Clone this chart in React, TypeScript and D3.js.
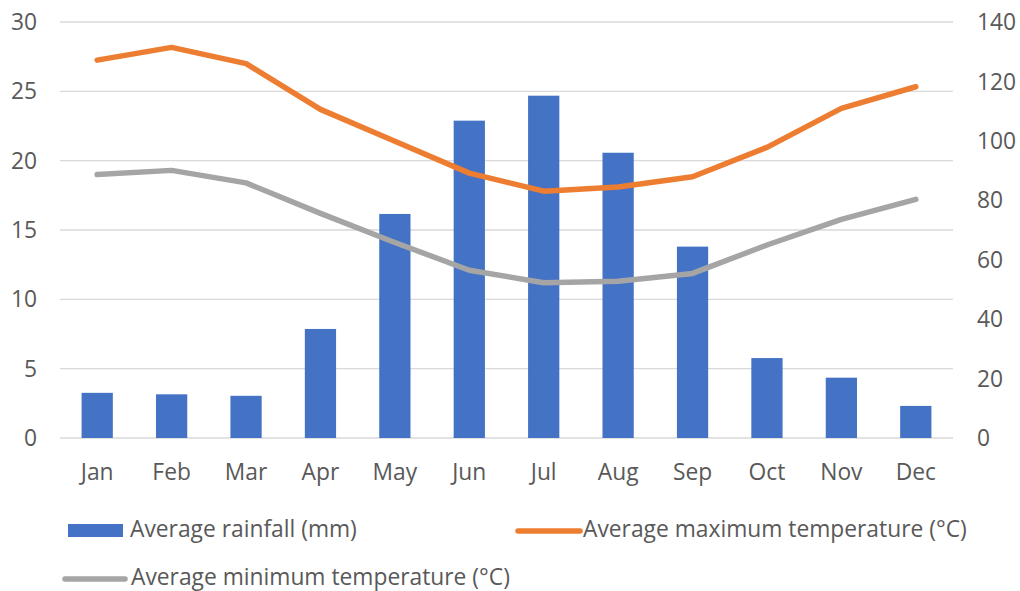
import React from "react";
import * as d3 from "d3";

const months = ["Jan", "Feb", "Mar", "Apr", "May", "Jun", "Jul", "Aug", "Sep", "Oct", "Nov", "Dec"];
const rainfall = [15.2, 14.7, 14.2, 36.7, 75.4, 106.8, 115.2, 96.0, 64.4, 26.9, 20.3, 10.8];
const maxTemp = [27.25, 28.17, 27.0, 23.7, 21.4, 19.1, 17.8, 18.1, 18.84, 20.96, 23.77, 25.33];
const minTemp = [19.0, 19.3, 18.4, 16.2, 14.1, 12.1, 11.2, 11.3, 11.87, 13.92, 15.77, 17.21];
const leftTicks = [0, 5, 10, 15, 20, 25, 30];
const rightTicks = [0, 20, 40, 60, 80, 100, 120, 140];
const seriesNames = ["Average rainfall (mm)", "Average maximum temperature (°C)", "Average minimum temperature (°C)"];

const W = 1020;
const H = 591;
const plotLeft = 60;
const plotRight = 953;
const plotTop = 22;
const plotBottom = 438;
const FONT = "'Open Sans', sans-serif";
const FS = 22.8;
const TEXT = "#595959";
const BLUE = "#4472C4";
const ORANGE = "#ED7D31";
const GRAY = "#A5A5A5";

export default function App() {
  const x = d3.scaleBand<string>().domain(months).range([plotLeft, plotRight]).paddingInner(0).paddingOuter(0);
  const yL = d3.scaleLinear().domain([0, 30]).range([plotBottom, plotTop]);
  const yR = d3.scaleLinear().domain([0, 140]).range([plotBottom, plotTop]);
  const barW = x.bandwidth() * 0.42;
  const cx = (m: string) => (x(m) as number) + x.bandwidth() / 2;

  const line = d3
    .line<number>()
    .x((_, i) => cx(months[i]))
    .y((d) => yL(d));

  return (
    <svg width={W} height={H} style={{ position: "absolute", left: 0, top: 0, background: "#fff" }}>
      <rect x={0} y={0} width={W} height={H} fill="#fff" />
      {leftTicks.map((t) => (
        <line key={"g" + t} x1={plotLeft} x2={plotRight} y1={yL(t)} y2={yL(t)} stroke="#D9D9D9" strokeWidth={1.4} />
      ))}
      {leftTicks.map((t) => (
        <text key={"l" + t} x={37} y={yL(t) + 8.1} textAnchor="end" fontFamily={FONT} fontSize={FS} fill={TEXT}>
          {t}
        </text>
      ))}
      {rightTicks.map((t) => (
        <text key={"r" + t} x={977} y={yR(t) + 8.1} textAnchor="start" fontFamily={FONT} fontSize={FS} fill={TEXT}>
          {t}
        </text>
      ))}
      {rainfall.map((v, i) => (
        <rect key={"b" + i} x={cx(months[i]) - barW / 2} y={yR(v)} width={barW} height={plotBottom - yR(v)} fill={BLUE} />
      ))}
      <path d={line(minTemp) as string} fill="none" stroke={GRAY} strokeWidth={5.5} strokeLinejoin="round" strokeLinecap="round" />
      <path d={line(maxTemp) as string} fill="none" stroke={ORANGE} strokeWidth={5.5} strokeLinejoin="round" strokeLinecap="round" />
      {months.map((m) => (
        <text key={"x" + m} x={cx(m)} y={480} textAnchor="middle" fontFamily={FONT} fontSize={FS} fill={TEXT}>
          {m}
        </text>
      ))}
      {/* legend */}
      <rect x={68} y={524} width={55} height={13} fill={BLUE} />
      <text x={130} y={537} fontFamily={FONT} fontSize={FS} fill={TEXT}>
        {seriesNames[0]}
      </text>
      <line x1={518} x2={580} y1={531} y2={531} stroke={ORANGE} strokeWidth={5.5} strokeLinecap="round" />
      <text x={583} y={537} fontFamily={FONT} fontSize={FS} fill={TEXT}>
        {seriesNames[1]}
      </text>
      <line x1={65} x2={125} y1={579} y2={579} stroke={GRAY} strokeWidth={5.5} strokeLinecap="round" />
      <text x={131} y={584.5} fontFamily={FONT} fontSize={FS} fill={TEXT}>
        {seriesNames[2]}
      </text>
    </svg>
  );
}
